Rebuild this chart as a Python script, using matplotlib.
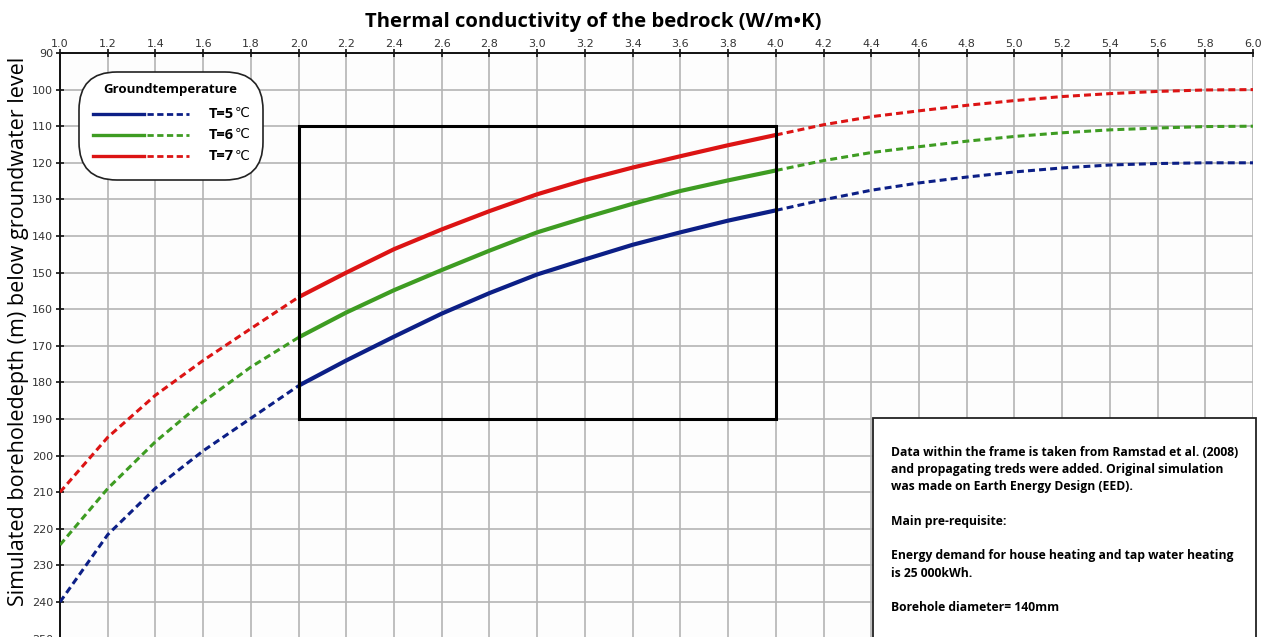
import matplotlib
matplotlib.use("Agg")
import matplotlib.pyplot as plt
from matplotlib.patches import FancyBboxPatch, Rectangle
from matplotlib.lines import Line2D
import numpy as np

plt.rcParams['lines.scale_dashes'] = False

# ---- data ----
conductivity = [1.0, 1.2, 1.4, 1.6, 1.8, 2.0, 2.2, 2.4, 2.6, 2.8, 3.0, 3.2, 3.4,
                3.6, 3.8, 4.0, 4.2, 4.4, 4.6, 4.8, 5.0, 5.2, 5.4, 5.6, 5.8, 6.0]
depth_T5 = [240.0, 221.6, 208.9, 198.7, 189.8, 180.9, 174.0, 167.5, 161.2, 155.6,
            150.5, 146.4, 142.4, 139.0, 135.8, 133.0, 130.1, 127.5, 125.5, 123.9,
            122.5, 121.4, 120.6, 120.2, 120.0, 120.0]
depth_T6 = [224.4, 209.0, 196.2, 185.3, 175.8, 167.7, 160.9, 154.8, 149.3, 144.0,
            139.0, 135.0, 131.2, 127.7, 124.8, 122.1, 119.4, 117.2, 115.6, 114.1,
            112.8, 111.8, 111.0, 110.5, 110.1, 110.0]
depth_T7 = [210.0, 195.0, 183.5, 174.0, 165.3, 156.7, 150.0, 143.6, 138.2, 133.2,
            128.6, 124.7, 121.3, 118.2, 115.2, 112.4, 109.6, 107.4, 105.8, 104.3,
            103.0, 101.9, 101.1, 100.5, 100.1, 100.0]
series_labels = ["T=5", "T=6", "T=7"]
frame_x = [2.0, 4.0]     # measured range (Ramstad et al. 2008)
frame_y = [110, 190]
x_ticks = [round(1.0 + 0.2 * i, 1) for i in range(26)]
y_ticks = list(range(90, 251, 10))

title = "Thermal conductivity of the bedrock (W/m\u2022K)"
ylabel = "Simulated boreholedepth (m) below groundwater level"
note_lines = [
    "Data within the frame is taken from Ramstad et al. (2008)",
    "and propagating treds were added. Original simulation",
    "was made on Earth Energy Design (EED).",
    "",
    "Main pre-requisite:",
    "",
    "Energy demand for house heating and tap water heating",
    "is 25 000kWh.",
    "",
    "Borehole diameter= 140mm",
]

colors = ['#0c1f86', '#3e9c22', '#dc1414']

W, H = 1263, 637
fig = plt.figure(figsize=(W / 100, H / 100), dpi=100)
fig.patch.set_facecolor('white')

def fx(px):
    return px / W

def fy(py):
    return 1 - py / H

ax_left, ax_right, ax_top = 60, 1253, 53
ax_bottom = 53 + 160 * 3.66
ax = fig.add_axes([fx(ax_left), fy(ax_bottom), fx(ax_right - ax_left), (ax_bottom - ax_top) / H])
ax.set_facecolor('#fdfdfd')
ax.set_xlim(1.0, 6.0)
ax.set_ylim(250, 90)

ax.xaxis.tick_top()
ax.set_xticks(x_ticks)
ax.set_xticklabels([f"{v:.1f}" for v in x_ticks])
ax.set_yticks(y_ticks)
ax.tick_params(axis='x', direction='inout', length=6, width=1.3, pad=0,
               labelsize=8, labelcolor='#333333', color='#222222')
ax.tick_params(axis='y', direction='inout', length=6, width=1.3, pad=2,
               labelsize=8, labelcolor='#333333', color='#222222')
ax.grid(True, color='#b4b4b4', lw=1.2, zorder=0)
ax.set_axisbelow(True)
for s in ['right', 'bottom']:
    ax.spines[s].set_visible(False)
for s in ['left', 'top']:
    ax.spines[s].set_linewidth(1.4)
    ax.spines[s].set_color('#111111')

x = np.array(conductivity)
lo, hi = frame_x
for d, c in zip([depth_T5, depth_T6, depth_T7], colors):
    d = np.array(d)
    m_left = x <= lo + 1e-9
    m_mid = (x >= lo - 1e-9) & (x <= hi + 1e-9)
    m_right = x >= hi - 1e-9
    ax.plot(x[m_left], d[m_left], color=c, lw=2.2, ls=(0, (5, 3)), zorder=3)
    ax.plot(x[m_right], d[m_right], color=c, lw=2.2, ls=(0, (5, 3)), zorder=3)
    ax.plot(x[m_mid], d[m_mid], color=c, lw=3.0, solid_capstyle='butt',
            solid_joinstyle='round', zorder=4)

ax.add_patch(Rectangle((frame_x[0], frame_y[0]), frame_x[1] - frame_x[0],
                       frame_y[1] - frame_y[0], fill=False, ec='black', lw=2.2, zorder=5))

# title and y label
fig.text(fx(593), fy(22), title, ha='center', va='center', fontsize=14.6,
         fontweight='bold', family='Open Sans')
fig.text(fx(19), fy(331), ylabel, ha='center', va='center', rotation=90,
         fontsize=15.5, family='Open Sans')

# legend box
leg = FancyBboxPatch((fx(79), fy(180)), fx(184), (180 - 72) / H,
                     boxstyle="round,pad=0,rounding_size=0.03",
                     transform=fig.transFigure, fc='white', ec='#222222', lw=1.2,
                     mutation_aspect=W / H, zorder=10)
fig.add_artist(leg)
fig.text(fx(170), fy(89), "Groundtemperature", ha='center', va='center',
         fontsize=9.5, fontweight='bold', family='Open Sans', zorder=11)
for i, (lab, c) in enumerate(zip(series_labels, colors)):
    yy = fy(113.5 + 21.3 * i)
    fig.add_artist(Line2D([fx(93), fx(144)], [yy, yy], color=c, lw=2.4,
                          transform=fig.transFigure, zorder=11))
    fig.add_artist(Line2D([fx(147), fx(189)], [yy, yy], color=c, lw=2.0,
                          ls=(0, (4.5, 2.5)), transform=fig.transFigure, zorder=11))
    t = fig.text(fx(209), yy, lab, ha='left', va='center', fontsize=10.5,
                 fontweight='bold', family='Open Sans', zorder=11)
    fig.add_artist(matplotlib.text.Annotation(
        "\u2103", xy=(1.0, 0.5), xycoords=t, xytext=(0.5, 0), textcoords='offset points',
        ha='left', va='center', fontsize=9.5, family='DejaVu Sans', zorder=11))

# note box
note = Rectangle((fx(873), fy(660)), fx(1256 - 873), (660 - 418) / H,
                 transform=fig.transFigure, fc='white', ec='#222222', lw=1.3, zorder=10)
fig.add_artist(note)
yline = 452
for line in note_lines:
    if line:
        fig.text(fx(891), fy(yline), line, ha='left', va='center', fontsize=8.75,
                 fontweight='bold', family='Open Sans', zorder=11)
    yline += 17.3

fig.savefig("out.png", dpi=100)
